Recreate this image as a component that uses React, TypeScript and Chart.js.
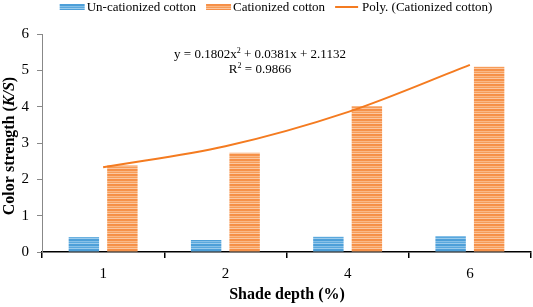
import React, { useEffect, useRef } from "react";
import { Chart, registerables } from "chart.js";

Chart.register(...registerables);

const categories = ["1", "2", "4", "6"];
const unCationized = [0.41, 0.33, 0.42, 0.44];
const cationized = [2.38, 2.73, 4.02, 5.1];
const polyTrend = [2.33, 2.91, 3.85, 5.15];
const yTicks = [0, 1, 2, 3, 4, 5, 6];
const seriesLabels = ["Un-cationized cotton", "Cationized cotton", "Poly. (Cationized cotton)"];
const equationText = ["y = 0.1802x", "2", " + 0.0381x + 2.1132"];
const r2Text = ["R", "2", " = 0.9866"];

const SERIF = "'Liberation Serif', 'Times New Roman', serif";

function makePattern(colors: string[]): CanvasPattern | string {
  const c = document.createElement("canvas");
  c.width = 4;
  c.height = colors.length;
  const ctx = c.getContext("2d");
  if (!ctx) return colors[0];
  colors.forEach((col, i) => {
    ctx.fillStyle = col;
    ctx.fillRect(0, i, 4, 1);
  });
  const p = ctx.createPattern(c, "repeat");
  return p || colors[0];
}

export default function App() {
  const ref = useRef<HTMLCanvasElement | null>(null);

  useEffect(() => {
    if (!ref.current) return;
    const bluePat = makePattern(["#4C9FD8", "#86C0E8", "#5AA8DD", "#9ACBEC", "#4E9FD9"]);
    const orangePat = makePattern(["#F6924A", "#FAB886", "#F79C58", "#FBC7A0", "#F68F46"]);

    const overlay = {
      id: "overlay",
      afterDraw(chart: any) {
        const ctx = chart.ctx as CanvasRenderingContext2D;
        ctx.save();
        // legend
        ctx.font = `13px ${SERIF}`;
        ctx.textBaseline = "middle";
        ctx.fillStyle = "#000";
        const boxW = 25;
        const gapText = 2;
        const gapItem = 10;
        const widths = seriesLabels.map((t) => boxW + gapText + ctx.measureText(t).width);
        const total = widths.reduce((a, b) => a + b, 0) + gapItem * (widths.length - 1);
        let x = 276 - total / 2;
        const ly = 7;
        seriesLabels.forEach((t, i) => {
          if (i === 0) {
            ctx.fillStyle = bluePat as any;
            ctx.fillRect(x, ly - 3, boxW, 6);
          } else if (i === 1) {
            ctx.fillStyle = orangePat as any;
            ctx.fillRect(x, ly - 3, boxW, 6);
          } else {
            ctx.strokeStyle = "#F47B20";
            ctx.lineWidth = 2;
            ctx.beginPath();
            ctx.moveTo(x, ly);
            ctx.lineTo(x + boxW - 2, ly);
            ctx.stroke();
          }
          ctx.fillStyle = "#000";
          ctx.textAlign = "left";
          ctx.fillText(t, x + boxW + gapText, ly + 1);
          x += widths[i] + gapItem;
        });

        // equation lines
        const drawSup = (parts: string[], cx: number, cy: number) => {
          const f1 = `13px ${SERIF}`;
          const f2 = `8px ${SERIF}`;
          ctx.font = f1;
          const w0 = ctx.measureText(parts[0]).width;
          const w2 = ctx.measureText(parts[2]).width;
          ctx.font = f2;
          const w1 = ctx.measureText(parts[1]).width;
          let sx = cx - (w0 + w1 + w2) / 2;
          ctx.textAlign = "left";
          ctx.textBaseline = "alphabetic";
          ctx.font = f1;
          ctx.fillText(parts[0], sx, cy);
          sx += w0;
          ctx.font = f2;
          ctx.fillText(parts[1], sx, cy - 5);
          sx += w1;
          ctx.font = f1;
          ctx.fillText(parts[2], sx, cy);
        };
        drawSup(equationText, 260, 58);
        drawSup(r2Text, 260, 73);

        // x title
        ctx.font = `bold 16px ${SERIF}`;
        ctx.textAlign = "center";
        ctx.textBaseline = "middle";
        ctx.fillText("Shade depth (%)", 287, 295);

        // y title with italic K/S
        const p1 = "Color strength (";
        const p2 = "K/S";
        const p3 = ")";
        const fb = `bold 16px ${SERIF}`;
        const fi = `italic bold 16px ${SERIF}`;
        ctx.font = fb;
        const a = ctx.measureText(p1).width;
        const c = ctx.measureText(p3).width;
        ctx.font = fi;
        const b = ctx.measureText(p2).width;
        const tot = a + b + c;
        ctx.translate(10, 146);
        ctx.rotate(-Math.PI / 2);
        ctx.textAlign = "left";
        let tx = -tot / 2;
        ctx.font = fb;
        ctx.fillText(p1, tx, 0);
        tx += a;
        ctx.font = fi;
        ctx.fillText(p2, tx, 0);
        tx += b;
        ctx.font = fb;
        ctx.fillText(p3, tx, 0);
        ctx.restore();
      },
    };

    const chart = new Chart(ref.current, {
      type: "bar",
      data: {
        labels: categories,
        datasets: [
          {
            type: "line" as any,
            label: seriesLabels[2],
            data: polyTrend,
            borderColor: "#F47B20",
            borderWidth: 2,
            pointRadius: 0,
            fill: false,
            cubicInterpolationMode: "monotone",
            order: 0,
          } as any,
          {
            label: seriesLabels[0],
            data: unCationized,
            backgroundColor: bluePat as any,
            borderWidth: 0,
            categoryPercentage: 0.63,
            barPercentage: 0.79,
            order: 2,
          },
          {
            label: seriesLabels[1],
            data: cationized,
            backgroundColor: orangePat as any,
            borderWidth: 0,
            categoryPercentage: 0.63,
            barPercentage: 0.79,
            order: 2,
          },
        ],
      },
      options: {
        animation: false,
        responsive: false,
        devicePixelRatio: 1,
        layout: { padding: { top: 34, right: 2, left: 0, bottom: 0 } },
        plugins: {
          legend: { display: false },
          tooltip: { enabled: false },
        },
        scales: {
          x: {
            grid: {
              display: true,
              drawOnChartArea: false,
              drawTicks: true,
              tickLength: 6,
              color: "#000",
              lineWidth: 1.5,
              offset: true,
            },
            border: { color: "#000", width: 1.5 },
            ticks: {
              color: "#000",
              font: { family: SERIF, size: 15 },
              padding: 7,
            },
            afterFit: (s: any) => {
              s.height = 55;
            },
          },
          y: {
            min: 0,
            max: 6,
            afterBuildTicks: (s: any) => {
              s.ticks = yTicks.map((v) => ({ value: v }));
            },
            grid: {
              display: true,
              drawOnChartArea: false,
              drawTicks: true,
              tickLength: 5,
              color: "#888",
            },
            border: { color: "#888", width: 1 },
            ticks: {
              color: "#000",
              font: { family: SERIF, size: 15 },
              padding: 8,
            },
            afterFit: (s: any) => {
              s.width = 42;
            },
          },
        },
      },
      plugins: [overlay],
    });
    return () => chart.destroy();
  }, []);

  return (
    <div style={{ position: "absolute", left: 0, top: 0, width: 533, height: 307, background: "#fff" }}>
      <canvas ref={ref} width={533} height={307} style={{ width: 533, height: 307, display: "block" }} />
    </div>
  );
}
